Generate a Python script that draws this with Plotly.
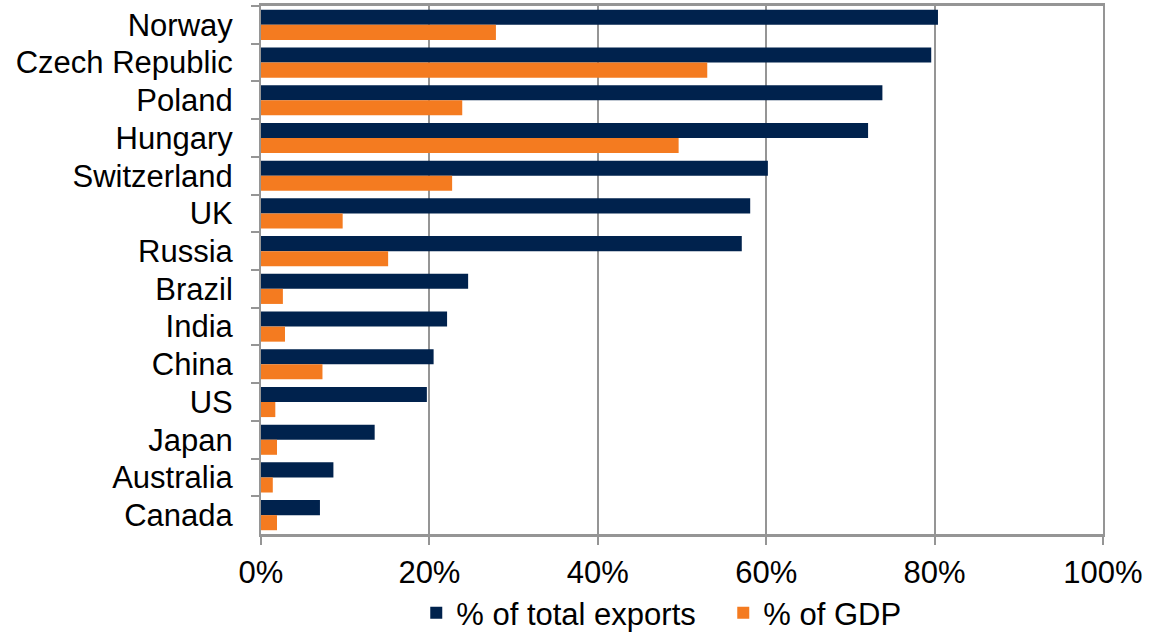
import plotly.graph_objects as go

countries = ["Norway", "Czech Republic", "Poland", "Hungary", "Switzerland", "UK", "Russia",
             "Brazil", "India", "China", "US", "Japan", "Australia", "Canada"]
pct_exports = [80.4, 79.6, 73.8, 72.1, 60.2, 58.1, 57.1, 24.6, 22.1, 20.5, 19.7, 13.5, 8.6, 7.0]
pct_gdp = [27.9, 53.0, 23.9, 49.6, 22.7, 9.7, 15.1, 2.6, 2.85, 7.3, 1.7, 1.9, 1.4, 1.9]
x_ticks = [0, 20, 40, 60, 80, 100]
x_ticklabels = ["0%", "20%", "40%", "60%", "80%", "100%"]

NAVY = "#00224D"
ORANGE = "#F47B20"
GRID = "#959595"
FONT = "Liberation Sans, Arial, sans-serif"

fig = go.Figure()
fig.add_trace(go.Bar(y=countries, x=pct_exports, orientation="h", name="% of total exports",
                     marker=dict(color=NAVY, line=dict(width=0))))
fig.add_trace(go.Bar(y=countries, x=pct_gdp, orientation="h", name="% of GDP",
                     marker=dict(color=ORANGE, line=dict(width=0))))

fig.update_layout(
    width=1149, height=634,
    margin=dict(l=261, r=46, t=6, b=100, autoexpand=False),
    paper_bgcolor="white", plot_bgcolor="white",
    barmode="group", bargap=0.2, bargroupgap=0,
    font=dict(family=FONT, size=31, color="black"),
    showlegend=True,
    legend=dict(orientation="h", x=0.549, xanchor="center", y=-0.15, yanchor="middle",
                bgcolor="rgba(0,0,0,0)", entrywidth=262,
                font=dict(size=31, family=FONT), itemwidth=30, traceorder="normal"),
)
fig.update_xaxes(range=[0, 100], tickvals=x_ticks, ticktext=x_ticklabels,
                 showgrid=True, gridcolor=GRID, gridwidth=2, automargin=False,
                 showline=True, linecolor=GRID, linewidth=3, mirror=True,
                 ticks="outside", ticklen=8, tickcolor=GRID, tickwidth=2,
                 ticklabelstandoff=1,
                 tickfont=dict(size=31, family=FONT), zeroline=False, fixedrange=True)
fig.update_yaxes(autorange="reversed", categoryorder="array", categoryarray=countries,
                 tickmode="linear", dtick=1,
                 showline=True, linecolor=GRID, linewidth=2, mirror=True, automargin=False,
                 ticks="outside", ticklen=8, tickcolor=GRID, tickwidth=2, tickson="boundaries",
                 ticklabelstandoff=20,
                 tickfont=dict(size=31, family=FONT), showgrid=False, fixedrange=True)

fig.write_html("out.html")
